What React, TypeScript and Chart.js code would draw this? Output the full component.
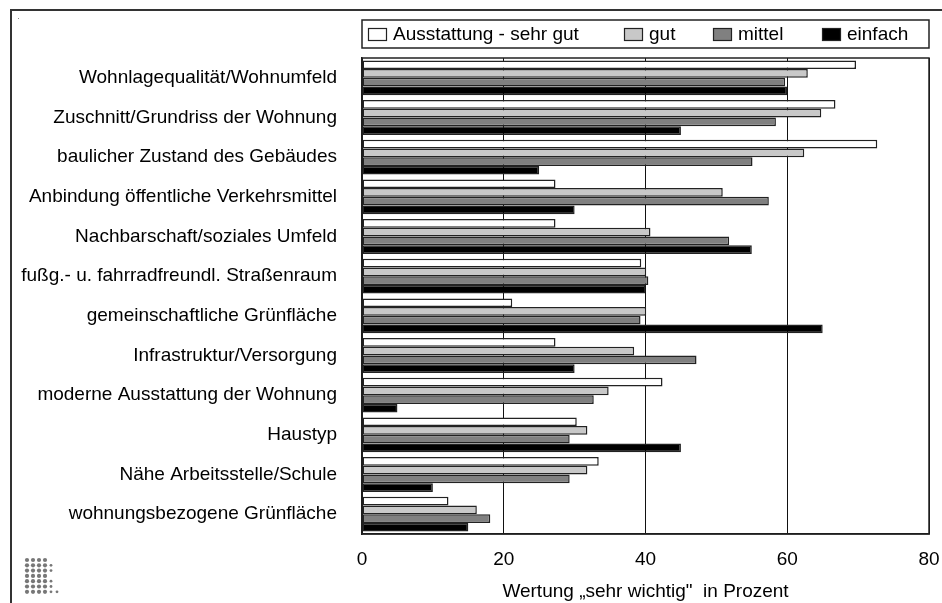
import React, { useEffect, useRef } from "react";
import { Chart, registerables } from "chart.js";

Chart.register(...registerables);

const categories = [
  "Wohnlagequalität/Wohnumfeld",
  "Zuschnitt/Grundriss der Wohnung",
  "baulicher Zustand des Gebäudes",
  "Anbindung öffentliche Verkehrsmittel",
  "Nachbarschaft/soziales Umfeld",
  "fußg.- u. fahrradfreundl. Straßenraum",
  "gemeinschaftliche Grünfläche",
  "Infrastruktur/Versorgung",
  "moderne Ausstattung der Wohnung",
  "Haustyp",
  "Nähe Arbeitsstelle/Schule",
  "wohnungsbezogene Grünfläche",
];

const seriesLabels = ["Ausstattung - sehr gut", "gut", "mittel", "einfach"];
const sehrGut = [69.7, 66.8, 72.7, 27.3, 27.3, 39.4, 21.2, 27.3, 42.4, 30.3, 33.4, 12.2];
const gut = [62.9, 64.8, 62.4, 50.9, 40.7, 40.1, 40.1, 38.4, 34.8, 31.8, 31.8, 16.2];
const mittel = [59.7, 58.4, 55.1, 57.4, 51.8, 40.4, 39.3, 47.2, 32.7, 29.3, 29.3, 18.1];
const einfach = [60, 45, 25, 30, 55, 40, 65, 30, 5, 45, 10, 15];
const xTicks = [0, 20, 40, 60, 80];
const axisTitle = "Wertung „sehr wichtig\"  in Prozent";

const seriesColors = ["#ffffff", "#c8c8c8", "#808080", "#000000"];
const FONT = '"Liberation Sans", Arial, Helvetica, sans-serif';
const FS = 19;
const legendOffsets = [6, 262, 351, 460];
const logoRows = [4, 5, 5, 4, 5, 5, 6];

const decorPlugin = {
  id: "decor",
  afterDraw(chart: any) {
    const ctx = chart.ctx;
    const a = chart.chartArea;
    ctx.save();
    // outer frame
    ctx.strokeStyle = "#333";
    ctx.lineWidth = 2;
    ctx.strokeRect(11, 10, 1200, 1200);
    ctx.fillStyle = "#888";
    ctx.fillRect(18, 18, 1, 1);
    // plot box
    ctx.strokeStyle = "#222";
    ctx.lineWidth = 1.5;
    ctx.strokeRect(a.left, a.top, a.right - a.left, a.bottom - a.top);
    // legend box
    const lt = 20, lb = 48;
    ctx.strokeRect(a.left, lt, a.right - a.left, lb - lt);
    ctx.font = `${FS}px ${FONT}`;
    ctx.textBaseline = "middle";
    ctx.textAlign = "left";
    chart.data.datasets.forEach((ds: any, i: number) => {
      const x = a.left + legendOffsets[i];
      ctx.fillStyle = ds.backgroundColor;
      ctx.fillRect(x, 28, 18, 12);
      ctx.strokeStyle = "#222";
      ctx.lineWidth = 1.2;
      ctx.strokeRect(x + 0.5, 28.5, 18, 12);
      ctx.fillStyle = "#000";
      ctx.fillText(ds.label, x + 25, 35);
    });
    // logo dots
    ctx.fillStyle = "#777";
    logoRows.forEach((n, r) => {
      for (let c = 0; c < n; c++) {
        const rad = c >= 4 ? 1.4 : 2.1;
        ctx.beginPath();
        ctx.arc(27 + c * 6, 560 + r * 5.3, rad, 0, Math.PI * 2);
        ctx.fill();
      }
    });
    ctx.restore();
  },
};

export default function App() {
  const ref = useRef<HTMLCanvasElement>(null);
  useEffect(() => {
    if (!ref.current) return;
    const data = [sehrGut, gut, mittel, einfach];
    const chart = new Chart(ref.current, {
      type: "bar",
      data: {
        labels: categories,
        datasets: data.map((d, i) => ({
          label: seriesLabels[i],
          data: d,
          backgroundColor: seriesColors[i],
          borderColor: "#222",
          borderWidth: 1.5,
          borderSkipped: false,
          categoryPercentage: 0.88,
          barPercentage: 1,
        })),
      },
      options: {
        indexAxis: "y",
        animation: false,
        responsive: false,
        layout: { padding: { top: 58, right: 13, left: 0, bottom: 0 } },
        plugins: { legend: { display: false }, tooltip: { enabled: false } },
        scales: {
          x: {
            min: 0,
            max: 80,
            afterBuildTicks(scale: any) {
              scale.ticks = xTicks.map((v) => ({ value: v }));
            },
            afterFit(scale: any) {
              scale.height = 69;
              scale.paddingLeft = 0;
              scale.paddingRight = 0;
            },
            grid: { color: "#111", lineWidth: 1, drawTicks: false },
            border: { display: true, color: "#111", width: 1.5 },
            ticks: { color: "#000", padding: 14, font: { family: FONT, size: FS } },
            title: {
              display: true,
              text: axisTitle,
              color: "#000",
              padding: { top: 0, bottom: 0 },
              font: { family: FONT, size: FS },
            },
          },
          y: {
            afterFit(scale: any) {
              scale.width = 362;
              scale.paddingTop = 0;
              scale.paddingBottom = 0;
            },
            grid: { display: false, drawTicks: false },
            border: { display: true, color: "#111", width: 1.5 },
            ticks: { color: "#000", padding: 25, font: { family: FONT, size: FS } },
          },
        },
      },
      plugins: [decorPlugin],
    });
    return () => chart.destroy();
  }, []);
  return (
    <div style={{ position: "absolute", left: 0, top: 0, width: 942, height: 603, background: "#fff" }}>
      <canvas ref={ref} width={942} height={603} style={{ display: "block" }} />
    </div>
  );
}
